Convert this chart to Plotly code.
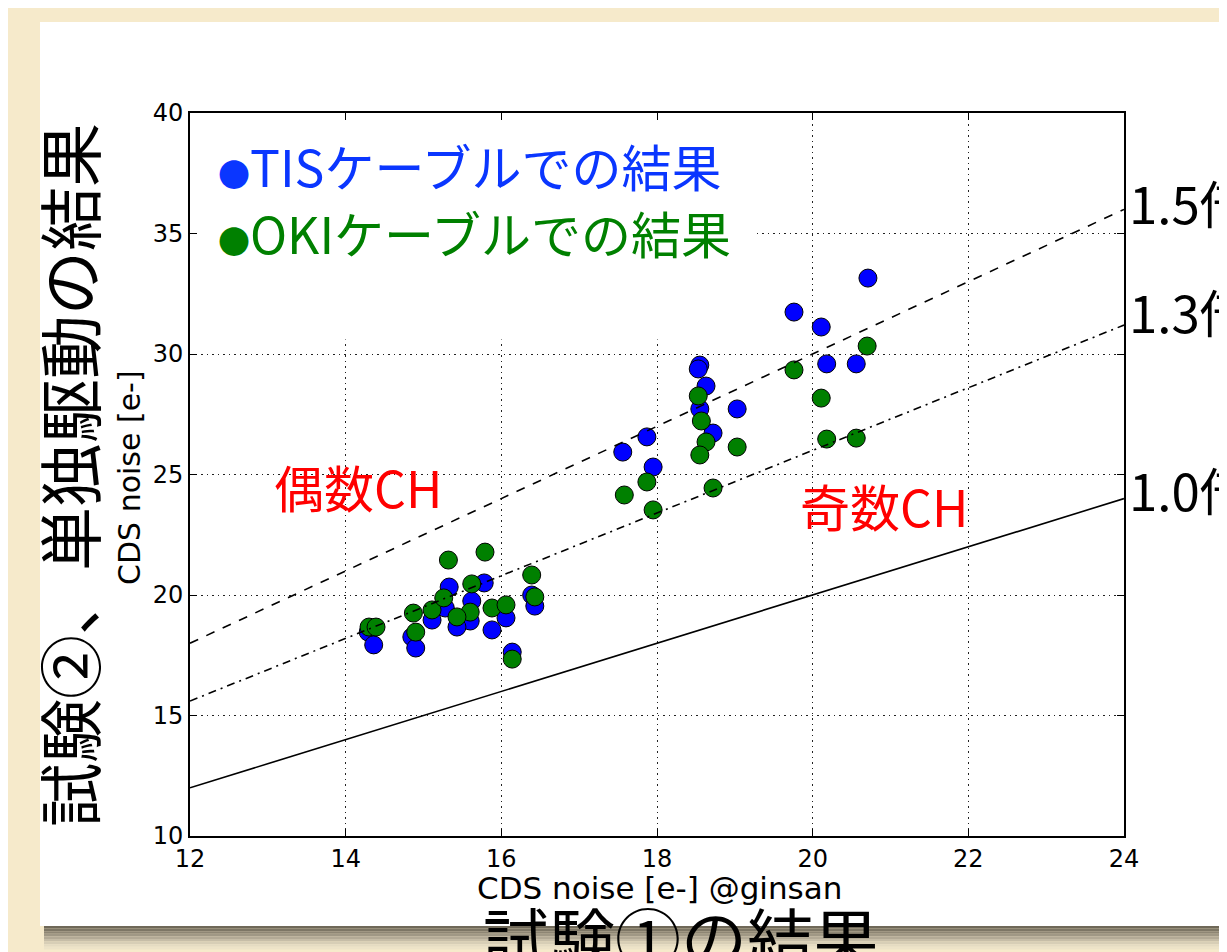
import plotly.graph_objects as go

# ---- data ----
tis_x = [14.29, 14.36, 14.85, 14.90, 15.11, 15.33, 15.28, 15.78, 15.62, 15.60,
         15.43, 15.88, 16.06, 16.14, 16.39, 16.43, 17.56, 17.87, 17.95, 18.55,
         18.53, 18.63, 18.55, 18.72, 19.03, 20.71, 19.76, 20.11, 20.18, 20.56]
tis_y = [18.46, 17.93, 18.26, 17.80, 18.96, 20.33, 19.46, 20.50, 19.75, 18.92,
         18.67, 18.55, 19.05, 17.63, 20.00, 19.54, 25.93, 26.56, 25.31, 29.54,
         29.38, 28.67, 27.72, 26.72, 27.72, 33.15, 31.74, 31.12, 29.59, 29.59]
oki_x = [14.30, 14.39, 14.87, 14.90, 15.11, 15.32, 15.26, 15.62, 15.60, 15.43,
         15.79, 15.88, 16.06, 16.14, 16.39, 16.43, 17.58, 17.87, 17.95, 18.53,
         18.57, 18.63, 18.55, 18.72, 19.03, 20.70, 19.76, 20.11, 20.18, 20.56]
oki_y = [18.67, 18.67, 19.25, 18.46, 19.38, 21.45, 19.88, 20.46, 19.29, 19.09,
         21.78, 19.46, 19.59, 17.34, 20.83, 19.92, 24.15, 24.69, 23.53, 28.26,
         27.22, 26.35, 25.81, 24.44, 26.14, 30.33, 29.34, 28.17, 26.47, 26.51]

ratios = [1.0, 1.5, 1.3]
ratio_labels = ["1.0倍", "1.5倍", "1.3倍"]
ratio_dash = ["solid", "dash", "8px,5px,2px,5px"]
x_range = [12, 24]
y_range = [10, 40]
x_ticks = [12, 14, 16, 18, 20, 22, 24]
y_ticks = [10, 15, 20, 25, 30, 35, 40]

# ---- geometry helpers (page pixels -> paper) ----
OFF = 8                      # page body margin of the html page
W, H = 1227 - OFF, 952 - OFF
L, R, T, B = 190, 1124, 113, 836   # plot area in page pixels


def px(xp):
    return (xp - L) / (R - L)


def py(yp):
    return (B - yp) / (B - T)


fig = go.Figure()

fig.add_trace(go.Scatter(x=tis_x, y=tis_y, mode="markers", name="TIS",
                         marker=dict(size=18, color="#0000ff",
                                     line=dict(color="black", width=1))))
fig.add_trace(go.Scatter(x=oki_x, y=oki_y, mode="markers", name="OKI",
                         marker=dict(size=18, color="#008000",
                                     line=dict(color="black", width=1))))
for r, d in zip(ratios, ratio_dash):
    fig.add_trace(go.Scatter(x=x_range, y=[r * v for v in x_range], mode="lines",
                             line=dict(color="black", width=1.6, dash=d),
                             showlegend=False, hoverinfo="skip"))

shapes = []
# white slide card
shapes.append(dict(type="rect", xref="paper", yref="paper", layer="below",
                   x0=px(40), x1=px(1260), y0=py(926), y1=py(22),
                   fillcolor="white", line=dict(width=0)))
# card shadow (bottom)
shadow_cols = ["#6f6858", "#7d7665", "#8e8674", "#a09885", "#b3aa96",
               "#c6bda7", "#d7ceb6", "#e4dbc2", "#ede3c8"]
for i, c in enumerate(shadow_cols):
    shapes.append(dict(type="rect", xref="paper", yref="paper", layer="below",
                       x0=px(44), x1=px(1260), y0=py(926 + 2.6 * (i + 1)),
                       y1=py(926 + 2.6 * i), fillcolor=c, line=dict(width=0)))
# white text box of the key, hides the grid
shapes.append(dict(type="rect", xref="x", yref="y", layer="between",
                   x0=12, x1=19.28, y0=30.6, y1=40,
                   fillcolor="white", line=dict(width=0)))

cjk = "Noto Sans CJK JP"
dot = '<span style="font-size:32px">●</span>'
ann = []
# key
ann.append(dict(text=dot + "TISケーブルでの結果", x=px(216), y=py(165), xref="paper", yref="paper",
                xanchor="left", yanchor="middle", showarrow=False,
                font=dict(family=cjk, size=50, color="#0a36ff")))
ann.append(dict(text=dot + "OKIケーブルでの結果", x=px(216), y=py(232), xref="paper", yref="paper",
                xanchor="left", yanchor="middle", showarrow=False,
                font=dict(family=cjk, size=50, color="#008000")))
# channel labels
ann.append(dict(text="偶数CH", x=px(272), y=py(486), xref="paper", yref="paper",
                xanchor="left", yanchor="middle", showarrow=False,
                font=dict(family=cjk, size=50, color="#ff0000")))
ann.append(dict(text="奇数CH", x=px(798), y=py(505), xref="paper", yref="paper",
                xanchor="left", yanchor="middle", showarrow=False,
                font=dict(family=cjk, size=50, color="#ff0000")))
# ratio labels at right
ratio_label_y = {"1.5倍": 202, "1.3倍": 311, "1.0倍": 489}
for lab in ratio_labels:
    ann.append(dict(text=lab, x=px(1127), y=py(ratio_label_y[lab]), xref="paper", yref="paper",
                    xanchor="left", yanchor="middle", showarrow=False,
                    font=dict(family=cjk, size=51, color="black")))
# axis titles
ann.append(dict(text="CDS noise [e-]", x=px(129), y=py(478), xref="paper", yref="paper",
                textangle=-90, xanchor="center", yanchor="middle", showarrow=False,
                font=dict(family="DejaVu Sans", size=30, color="black")))
ann.append(dict(text="CDS noise [e-] @ginsan", x=px(659), y=py(888), xref="paper", yref="paper",
                xanchor="center", yanchor="middle", showarrow=False,
                font=dict(family="DejaVu Sans", size=31, color="black")))
# slide titles
ann.append(dict(text="試験②、単独駆動の結果", x=px(67), y=py(475), xref="paper", yref="paper",
                textangle=-90, xanchor="center", yanchor="middle", showarrow=False,
                font=dict(family=cjk, size=64, color="black")))
ann.append(dict(text="試験①の結果", x=px(681), y=py(935), xref="paper", yref="paper",
                xanchor="center", yanchor="middle", showarrow=False,
                font=dict(family=cjk, size=66, color="black")))

axis_common = dict(showgrid=True, gridcolor="#222", gridwidth=1, griddash="1.5px,4px",
                   zeroline=False, showline=True, linecolor="black", linewidth=1.6,
                   mirror="ticks", ticks="inside", ticklen=7, tickwidth=1.2,
                   tickcolor="black",
                   tickfont=dict(family="DejaVu Sans", size=24, color="black"))

fig.update_layout(
    width=W, height=H,
    margin=dict(l=L - OFF, r=W - (R - OFF), t=T - OFF, b=H - (B - OFF), pad=0),
    paper_bgcolor="#f6eacb", plot_bgcolor="white",
    showlegend=False,
    shapes=shapes, annotations=ann,
    xaxis=dict(range=x_range, tickvals=x_ticks, **axis_common),
    yaxis=dict(range=y_range, tickvals=y_ticks, **axis_common),
)

fig.write_html("out.html")
